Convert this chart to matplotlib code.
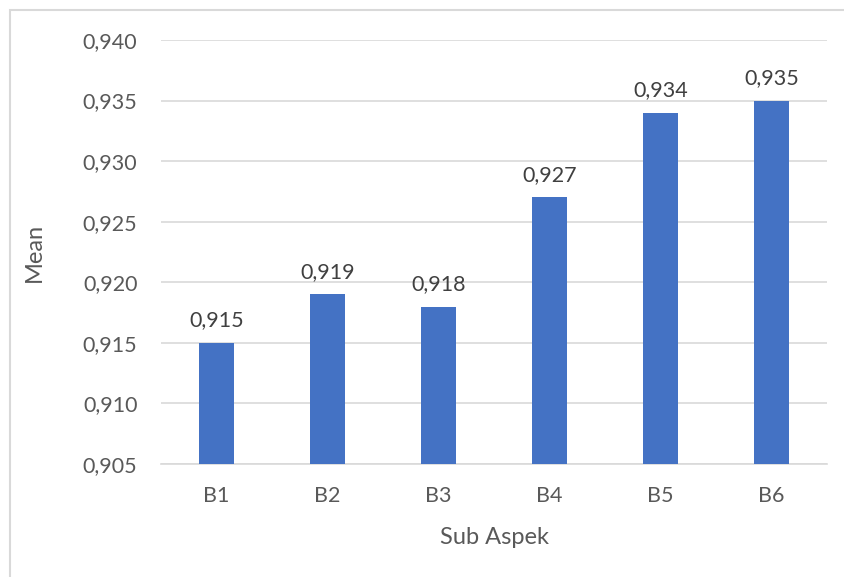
import matplotlib.pyplot as plt
from matplotlib.patches import Rectangle
from matplotlib.ticker import FuncFormatter

plt.rcParams['font.family'] = ['Lato', 'DejaVu Sans']

sub_aspek = ['B1', 'B2', 'B3', 'B4', 'B5', 'B6']
mean = [0.915, 0.919, 0.918, 0.927, 0.934, 0.935]

teks = '#595959'
biru = '#4472C4'
abu = '#D9D9D9'

fig = plt.figure(figsize=(8.44, 5.77), dpi=100)
ax = fig.add_axes([161 / 844, 1 - 464 / 577, (827 - 161) / 844, (464 - 40) / 577])

# bingkai luar grafik
fig.patches.append(Rectangle((10 / 844, -0.1), 1.2, 1 - 10 / 577 + 0.1,
                             transform=fig.transFigure, fill=False,
                             edgecolor=abu, linewidth=1.5))

x = range(len(sub_aspek))
ax.bar(x, [m - 0.905 for m in mean], bottom=0.905, width=0.315, color=biru, zorder=3)

for i, m in zip(x, mean):
    ax.annotate(f'{m:.3f}'.replace('.', ','), (i, m), xytext=(0, 9),
                textcoords='offset points', ha='center', va='bottom',
                fontsize=15.5, color='#404040')

ax.set_xlim(-0.5, len(sub_aspek) - 0.5)
ax.set_ylim(0.905, 0.940)
ax.set_yticks([0.905, 0.910, 0.915, 0.920, 0.925, 0.930, 0.935, 0.940])
ax.yaxis.set_major_formatter(FuncFormatter(lambda v, p: f'{v:.3f}'.replace('.', ',')))
ax.set_xticks(list(x))
ax.set_xticklabels(sub_aspek)
ax.tick_params(length=0, labelsize=15.5, colors=teks)
ax.tick_params(axis='y', pad=17)
ax.tick_params(axis='x', pad=16)

ax.grid(axis='y', color=abu, linewidth=1.2, zorder=0)
for s in ['top', 'right', 'left']:
    ax.spines[s].set_visible(False)
ax.spines['bottom'].set_color(abu)
ax.spines['bottom'].set_linewidth(1.2)

ax.set_xlabel('Sub Aspek', fontsize=17, color=teks, labelpad=15)
ax.set_ylabel('Mean', fontsize=17, color=teks, labelpad=27)

fig.savefig('out.png', dpi=100)
